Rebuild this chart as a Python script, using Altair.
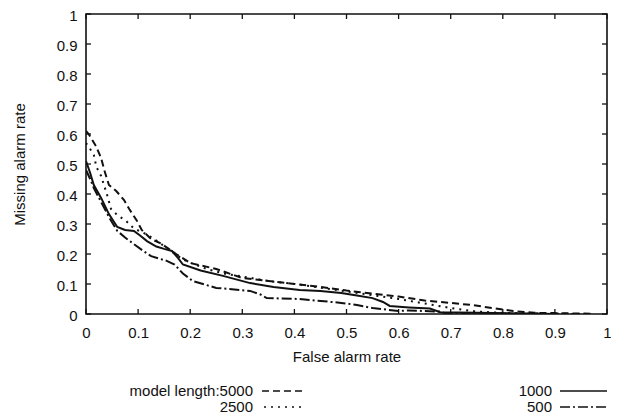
import altair as alt
import pandas as pd

# ---- data ----
x_5000 = [0, 0.005, 0.019, 0.029, 0.035, 0.044, 0.058, 0.073, 0.083, 0.098, 0.107, 0.125, 0.144, 0.173,
          0.2, 0.25, 0.3, 0.35, 0.4, 0.45, 0.5, 0.55, 0.6, 0.65, 0.7, 0.74, 0.78, 0.82, 0.86, 0.9, 0.97]
y_5000 = [0.61, 0.60, 0.56, 0.52, 0.48, 0.43, 0.41, 0.38, 0.35, 0.31, 0.28, 0.25, 0.235, 0.20,
          0.17, 0.15, 0.12, 0.11, 0.10, 0.09, 0.078, 0.068, 0.058, 0.045, 0.037, 0.03, 0.02, 0.01, 0.004, 0.003, 0.001]

x_2500 = [0, 0.008, 0.015, 0.02, 0.029, 0.04, 0.048, 0.06, 0.077, 0.092, 0.117, 0.135, 0.155, 0.175, 0.194,
          0.232, 0.27, 0.3, 0.35, 0.4, 0.45, 0.5, 0.55, 0.6, 0.65, 0.7, 0.75, 0.8, 0.85, 0.9, 0.95]
y_2500 = [0.57, 0.55, 0.53, 0.49, 0.46, 0.40, 0.35, 0.33, 0.31, 0.285, 0.265, 0.245, 0.22, 0.195, 0.175,
          0.15, 0.133, 0.125, 0.11, 0.10, 0.088, 0.075, 0.063, 0.05, 0.035, 0.02, 0.008, 0.004, 0.002, 0.001, 0.0]

x_1000 = [0, 0.008, 0.015, 0.029, 0.044, 0.06, 0.075, 0.092, 0.105, 0.117, 0.135, 0.15, 0.165, 0.175, 0.186,
          0.22, 0.263, 0.315, 0.36, 0.41, 0.45, 0.49, 0.52, 0.55, 0.57, 0.583, 0.62, 0.66, 0.68, 0.75, 0.85, 0.9]
y_1000 = [0.51, 0.47, 0.43, 0.387, 0.333, 0.29, 0.28, 0.277, 0.26, 0.243, 0.225, 0.217, 0.21, 0.19, 0.165,
          0.145, 0.127, 0.103, 0.09, 0.08, 0.077, 0.07, 0.062, 0.053, 0.04, 0.027, 0.022, 0.018, 0.006, 0.004, 0.002, 0.0]

x_500 = [0, 0.008, 0.015, 0.03, 0.045, 0.06, 0.075, 0.092, 0.11, 0.125, 0.155, 0.17, 0.186, 0.205, 0.25,
         0.315, 0.335, 0.347, 0.41, 0.49, 0.52, 0.55, 0.6, 0.62, 0.68, 0.69, 0.8, 0.9]
y_500 = [0.48, 0.45, 0.42, 0.37, 0.32, 0.277, 0.255, 0.233, 0.21, 0.193, 0.177, 0.165, 0.135, 0.11, 0.087,
         0.077, 0.065, 0.053, 0.05, 0.037, 0.03, 0.02, 0.01, 0.012, 0.008, 0.002, 0.001, 0.0]

series_labels = ["model length:5000", "2500", "1000", "500"]
tick_values = [0, 0.1, 0.2, 0.3, 0.4, 0.5, 0.6, 0.7, 0.8, 0.9, 1]
x_title = "False alarm rate"
y_title = "Missing alarm rate"

# ---- styling ----
W, H = 521, 300
FONT = "Liberation Sans"
FS = 15
INK = "#111111"
dashes = [[7, 4], [2, 5], [1, 0], [10, 3, 2, 3]]
series = [(x_5000, y_5000), (x_2500, y_2500), (x_1000, y_1000), (x_500, y_500)]
# legend placement (pixels inside the view coordinate system)
leg_pos = [(167, 377, 176, 217), (167, 393, 178, 217), (466, 377, 474, 521), (466, 393, 474, 521)]

xs = alt.Scale(domain=[0, 1], nice=False, zero=False)
ys = alt.Scale(domain=[0, 1], nice=False, zero=False)

x_axis = alt.Axis(values=tick_values, format="~g", ticks=False, domain=False, grid=False,
                  labelPadding=11, titlePadding=9, labelFont=FONT, titleFont=FONT,
                  labelFontSize=FS, titleFontSize=FS, titleFontWeight="normal",
                  labelColor=INK, titleColor=INK, labelFlush=False, labelOverlap=False)
y_axis = alt.Axis(values=tick_values, format="~g", ticks=False, domain=False, grid=False,
                  labelPadding=9, titlePadding=29, labelFont=FONT, titleFont=FONT,
                  labelFontSize=FS, titleFontSize=FS, titleFontWeight="normal",
                  labelColor=INK, titleColor=INK, labelFlush=False, labelOverlap=False,
                  labelOffset=1)


def X(field):
    return alt.X(field, scale=xs, axis=x_axis, title=x_title)


def Y(field):
    return alt.Y(field, scale=ys, axis=y_axis, title=y_title)


layers = []
for (xv, yv), dash in zip(series, dashes):
    df = pd.DataFrame({"x": xv, "y": yv})
    kw = dict(color=INK, strokeWidth=2, clip=True)
    if dash != [1, 0]:
        kw["strokeDash"] = dash
    layers.append(alt.Chart(df).mark_line(**kw).encode(x=X("x:Q"), y=Y("y:Q")))

tdf = pd.DataFrame({"t": tick_values})
tk = dict(color=INK, strokeWidth=1.3)
layers.append(alt.Chart(tdf).mark_rule(**tk).encode(x=X("t:Q"), y=alt.value(H), y2=alt.value(H - 5)))
layers.append(alt.Chart(tdf).mark_rule(**tk).encode(x=X("t:Q"), y=alt.value(0), y2=alt.value(5)))
layers.append(alt.Chart(tdf).mark_rule(**tk).encode(y=Y("t:Q"), x=alt.value(0), x2=alt.value(5)))
layers.append(alt.Chart(tdf).mark_rule(**tk).encode(y=Y("t:Q"), x=alt.value(W), x2=alt.value(W - 5)))

# legend (gnuplot-style: label right-aligned, sample to its right)
one = pd.DataFrame({"k": [0]})
for lab, dash, (tx, ty, s0, s1) in zip(series_labels, dashes, leg_pos):
    layers.append(alt.Chart(one).mark_text(align="right", baseline="middle", font=FONT, fontSize=FS, color=INK)
                  .encode(x=alt.value(tx), y=alt.value(ty), text=alt.value(lab)))
    kw = dict(color=INK, strokeWidth=1.7)
    if dash != [1, 0]:
        kw["strokeDash"] = dash
    layers.append(alt.Chart(one).mark_rule(**kw)
                  .encode(x=alt.value(s0), x2=alt.value(s1), y=alt.value(ty)))

chart = alt.layer(*layers).properties(
    width=W, height=H,
    autosize=alt.AutoSizeParams(type="none"),
    padding={"left": 78, "top": 6, "right": 4, "bottom": 100},
    background="white",
).configure_view(stroke=INK, strokeWidth=1.6)

chart.save("out.html", embed_options={"renderer": "svg", "actions": False})
